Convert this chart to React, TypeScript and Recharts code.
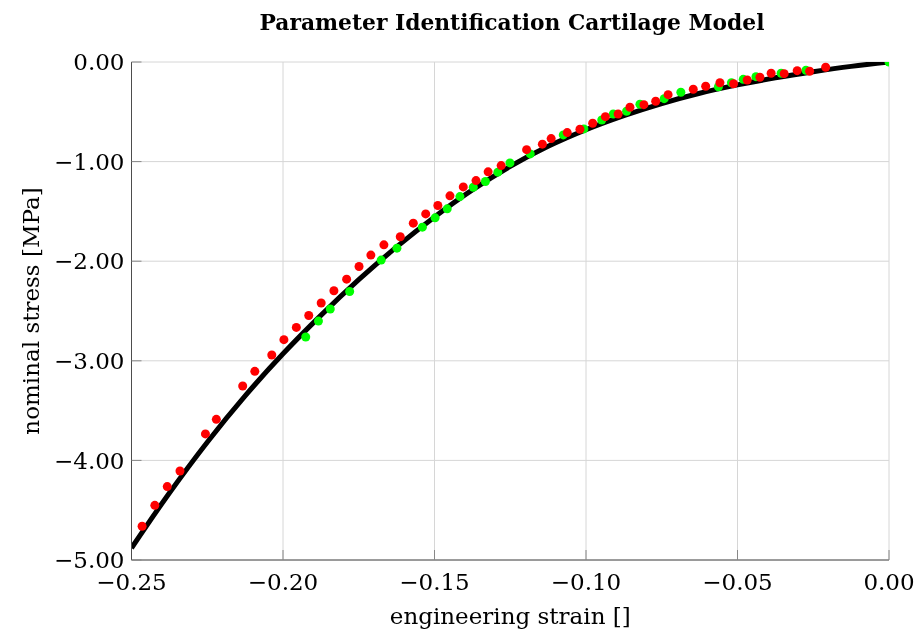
import React from 'react';
import { ComposedChart, Line, Scatter, XAxis, YAxis, CartesianGrid, Label } from 'recharts';

// fitted model curve (strain -> nominal stress)
const modelStrain = [
  -0.25, -0.2375, -0.225, -0.2125, -0.2, -0.1875, -0.175, -0.1625, -0.15, -0.1375, -0.125,
  -0.1125, -0.1, -0.0875, -0.075, -0.0625, -0.05, -0.0375, -0.025, -0.0125, 0,
];
const modelStress = [
  -4.88, -4.327, -3.817, -3.352, -2.93, -2.544, -2.186, -1.856, -1.555, -1.284, -1.048,
  -0.847, -0.68, -0.539, -0.417, -0.314, -0.23, -0.159, -0.098, -0.044, 0,
];

// measured data, set 1 (red)
const redStrain = [
  -0.2465, -0.2423, -0.2382, -0.234, -0.2256, -0.222, -0.2133, -0.2093, -0.2037, -0.1997,
  -0.1956, -0.1915, -0.1874, -0.1832, -0.179, -0.1749, -0.171, -0.1667, -0.1613, -0.157,
  -0.1529, -0.1489, -0.1449, -0.1405, -0.1363, -0.1323, -0.128, -0.1196, -0.1144, -0.1115,
  -0.1062, -0.102, -0.0978, -0.0936, -0.0894, -0.0855, -0.0809, -0.077, -0.0729, -0.0646,
  -0.0605, -0.0558, -0.0513, -0.0468, -0.0426, -0.0389, -0.0346, -0.0303, -0.0262, -0.0209,
];
const redStress = [
  -4.661, -4.451, -4.263, -4.106, -3.734, -3.588, -3.253, -3.106, -2.942, -2.788,
  -2.665, -2.545, -2.42, -2.297, -2.18, -2.053, -1.939, -1.836, -1.755, -1.618,
  -1.525, -1.441, -1.344, -1.254, -1.191, -1.103, -1.04, -0.88, -0.825, -0.769,
  -0.709, -0.675, -0.615, -0.549, -0.522, -0.454, -0.428, -0.394, -0.328, -0.274,
  -0.244, -0.208, -0.218, -0.181, -0.153, -0.113, -0.117, -0.087, -0.093, -0.053,
];

// measured data, set 2 (green)
const greenStrain = [
  -0.1925, -0.1883, -0.1844, -0.178, -0.1676, -0.1624, -0.154, -0.1498, -0.1458, -0.1416,
  -0.1372, -0.1332, -0.1291, -0.1251, -0.1184, -0.1075, -0.1007, -0.0948, -0.091, -0.0866,
  -0.0822, -0.0742, -0.0687, -0.0563, -0.052, -0.0481, -0.0439, -0.0356, -0.0274, 0,
];
const greenStress = [
  -2.761, -2.601, -2.48, -2.304, -1.989, -1.869, -1.658, -1.565, -1.474, -1.351,
  -1.257, -1.2, -1.106, -1.013, -0.923, -0.732, -0.672, -0.582, -0.522, -0.494,
  -0.424, -0.368, -0.304, -0.248, -0.208, -0.174, -0.147, -0.113, -0.083, 0,
];

const strainTicks = [-0.25, -0.2, -0.15, -0.1, -0.05, 0];
const stressTicks = [-5, -4, -3, -2, -1, 0];

const toRows = (xs: number[], ys: number[]) => xs.map((x, i) => ({ x, y: ys[i] }));

const modelData = toRows(modelStrain, modelStress);
const redData = toRows(redStrain, redStress);
const greenData = toRows(greenStrain, greenStress);

const FONT = '"DejaVu Serif", serif';
const tickStyle = { fill: '#000', fontSize: 23, fontFamily: FONT };

const fmt = (v: number) => (v < 0 ? '\u2212' : '') + Math.abs(v).toFixed(2);

const dot = (color: string) => (props: any) => (
  <circle cx={props.cx} cy={props.cy} r={4.5} fill={color} />
);

export default function App() {
  // spacer keeps the body filled; the chart itself is pinned to the window corner
  return (
    <div style={{ width: 901, height: 619 }}>
      <div style={{ position: 'fixed', left: 0, top: 0, width: 917, height: 635 }}>
        <ComposedChart
          width={917}
          height={635}
          margin={{ top: 62, right: 28, bottom: 0, left: 0 }}
          style={{ overflow: 'visible' }}
        >
          <CartesianGrid stroke="#d6d6d6" />
          <XAxis
            type="number"
            dataKey="x"
            domain={[-0.25, 0]}
            ticks={strainTicks}
            interval={0}
            allowDataOverflow
            height={75}
            tickFormatter={fmt}
            tick={tickStyle}
            tickSize={-10}
            tickMargin={24}
            tickLine={{ stroke: '#888' }}
            axisLine={{ stroke: '#4d4d4d' }}
          >
            <Label
              value="engineering strain []"
              position="insideBottom"
              offset={11}
              style={{ fill: '#000', fontSize: 23, fontFamily: FONT }}
            />
          </XAxis>
          <YAxis
            type="number"
            dataKey="y"
            domain={[-5, 0]}
            ticks={stressTicks}
            interval={0}
            allowDataOverflow
            width={131.5}
            tickFormatter={fmt}
            tick={tickStyle}
            tickSize={-10}
            tickMargin={17}
            tickLine={{ stroke: '#888' }}
            axisLine={{ stroke: '#4d4d4d' }}
          >
            <Label
              value="nominal stress [MPa]"
              position="insideLeft"
              angle={-90}
              offset={31}
              style={{ fill: '#000', fontSize: 23, fontFamily: FONT, textAnchor: 'middle' }}
            />
          </YAxis>
          <Line
            data={modelData}
            dataKey="y"
            type="monotone"
            stroke="#000"
            strokeWidth={5}
            dot={false}
            activeDot={false}
            isAnimationActive={false}
          />
          <Scatter data={greenData} dataKey="y" fill="#00ff00" shape={dot('#00ff00')} isAnimationActive={false} />
          <Scatter data={redData} dataKey="y" fill="#ff0000" shape={dot('#ff0000')} isAnimationActive={false} />
        </ComposedChart>
        <svg width={917} height={40} style={{ position: 'absolute', left: 0, top: 0, pointerEvents: 'none' }}>
          <text
            x={512}
            y={29.5}
            textAnchor="middle"
            style={{ fontFamily: FONT, fontWeight: 'bold', fontSize: 21.8, fill: '#000' }}
          >
            Parameter Identification Cartilage Model
          </text>
        </svg>
      </div>
    </div>
  );
}
